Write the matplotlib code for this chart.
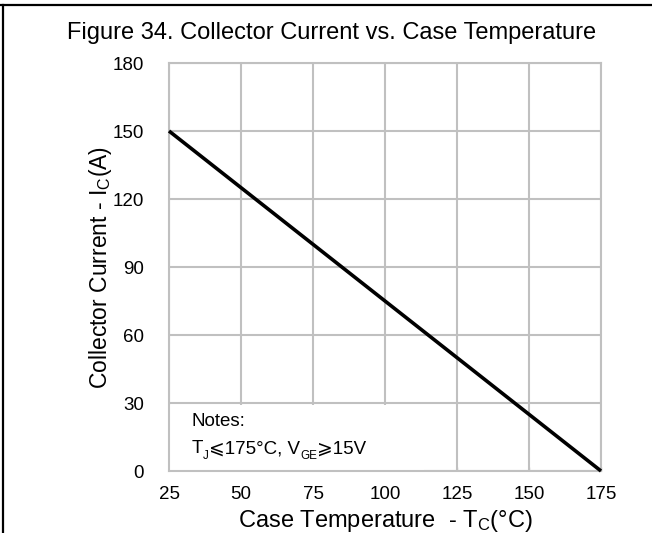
import matplotlib
matplotlib.use("Agg")
import matplotlib.pyplot as plt
from matplotlib.patches import Rectangle
from matplotlib.lines import Line2D

plt.rcParams['font.family'] = ['Liberation Sans', 'DejaVu Sans', 'Noto Sans CJK SC']
plt.rcParams['mathtext.fontset'] = 'custom'
plt.rcParams['mathtext.rm'] = 'Liberation Sans'
plt.rcParams['mathtext.it'] = 'Liberation Sans'
plt.rcParams['mathtext.bf'] = 'Liberation Sans'

case_temp = [25, 175]
collector_current = [150, 0]
x_ticks = [25, 50, 75, 100, 125, 150, 175]
y_ticks = [0, 30, 60, 90, 120, 150, 180]

W, H = 652, 533
fig = plt.figure(figsize=(W / 100, H / 100), dpi=100)
ax = fig.add_axes([169 / W, 1 - 471 / H, (601 - 169) / W, (471 - 63) / H])

grid_c = '#c0c0c0'
ax.set_xlim(25, 175)
ax.set_ylim(0, 180)
ax.set_xticks(x_ticks)
ax.set_yticks(y_ticks)
ax.grid(True, color=grid_c, linewidth=1.5, zorder=1)
ax.set_axisbelow(True)
for s in ax.spines.values():
    s.set_color(grid_c)
    s.set_linewidth(1.5)
ax.tick_params(axis='x', direction='in', length=3, width=1, color=grid_c,
               labelsize=13.5, pad=11)
ax.tick_params(axis='y', length=0, labelsize=13.5, pad=18)

# Notes box (covers gridlines)
ax.add_patch(Rectangle((0, 0), 0.59, (471 - 405) / (471 - 63),
                       transform=ax.transAxes, facecolor='white',
                       edgecolor='none', zorder=2))

ax.plot(case_temp, collector_current, color='black', linewidth=2.6,
        zorder=5, clip_on=False, solid_capstyle='butt')

fs = 13.5
ax.text(0.053, 0.1225, 'Notes:', transform=ax.transAxes, fontsize=fs,
        va='center', ha='left', zorder=6)
# second notes line built from pieces (main text + subscripts)
pieces = [('T', fs, 0), ('J', fs * 0.62, -3), ('⩽175°C, V', fs, 3),
          ('GE', fs * 0.62, -3), ('⩾15V', fs, 3)]
prev = ax.text(0.053, 0.054, pieces[0][0], transform=ax.transAxes, fontsize=fs,
               va='center', ha='left', zorder=6)
for txt, size, dy in pieces[1:]:
    prev = ax.annotate(txt, xy=(1, 0), xycoords=prev, xytext=(0, dy),
                       textcoords='offset points', fontsize=size,
                       va='bottom', ha='left', zorder=6)

fig.text(332 / W, 1 - 33 / H, 'Figure 34. Collector Current vs. Case Temperature',
         ha='center', va='center', fontsize=17)
fig.text(385 / W, 1 - 521 / H, r'Case Temperature  - T$_\mathregular{C}$(°C)',
         ha='center', va='center', fontsize=17)
fig.text(100 / W, 1 - 267 / H, r'Collector Current - I$_\mathregular{C}$(A)',
         ha='center', va='center', fontsize=16.5, rotation=90)

# figure frame lines (top and left)
fig.add_artist(Line2D([0, 1], [1 - 4.5 / H, 1 - 4.5 / H], transform=fig.transFigure,
                      color='black', linewidth=1.6))
fig.add_artist(Line2D([2.5 / W, 2.5 / W], [0, 1 - 4.5 / H], transform=fig.transFigure,
                      color='black', linewidth=1.6))

fig.savefig('out.png', dpi=100)
